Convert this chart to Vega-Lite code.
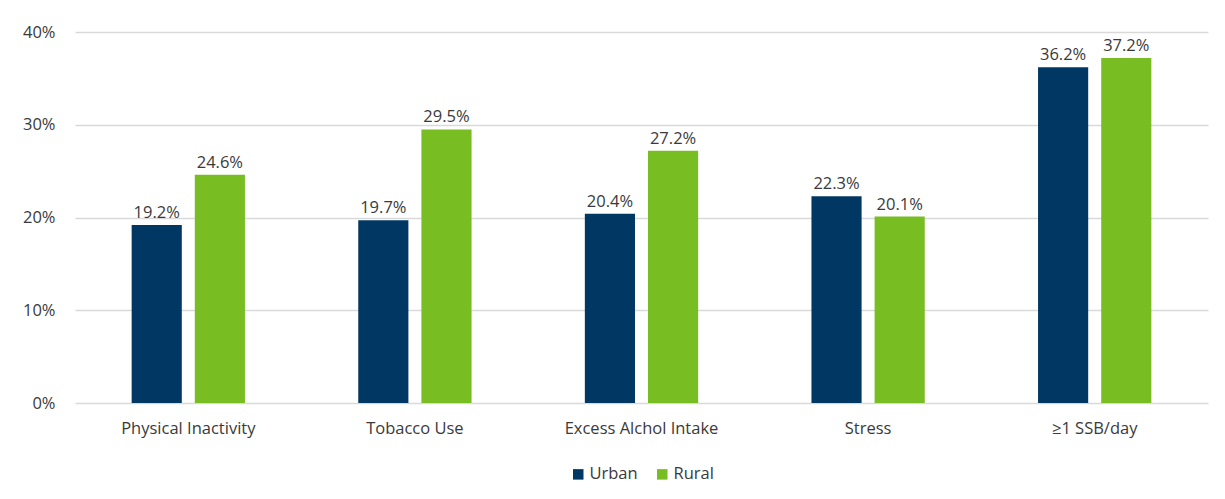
{
  "$schema": "https://vega.github.io/schema/vega-lite/v6.json",
  "autosize": {"type": "none"},
  "padding": {"left": 75, "top": 32, "right": 17, "bottom": 96},
  "width": 1133,
  "height": 371,
  "background": "white",
  "data": {
    "values": [
      {"category": "Physical Inactivity", "group": "Urban", "value": 0.192},
      {"category": "Physical Inactivity", "group": "Rural", "value": 0.246},
      {"category": "Tobacco Use", "group": "Urban", "value": 0.197},
      {"category": "Tobacco Use", "group": "Rural", "value": 0.295},
      {"category": "Excess Alchol Intake", "group": "Urban", "value": 0.204},
      {"category": "Excess Alchol Intake", "group": "Rural", "value": 0.272},
      {"category": "Stress", "group": "Urban", "value": 0.223},
      {"category": "Stress", "group": "Rural", "value": 0.201},
      {"category": "≥1 SSB/day", "group": "Urban", "value": 0.362},
      {"category": "≥1 SSB/day", "group": "Rural", "value": 0.372}
    ]
  },
  "encoding": {
    "x": {
      "field": "category", "type": "nominal", "sort": null, "title": null,
      "scale": {"paddingInner": 0.5, "paddingOuter": 0.25},
      "axis": {"labelAngle": 0, "ticks": false, "domain": false, "labelPadding": 17, "labelFontSize": 16.5, "labelColor": "#3A3A3A", "labelFont": "Open Sans"}
    },
    "xOffset": {"field": "group", "type": "nominal", "sort": ["Urban", "Rural"], "scale": {"paddingInner": 0.206, "paddingOuter": 0}},
    "y": {
      "field": "value", "type": "quantitative", "title": null,
      "scale": {"domain": [0, 0.4]},
      "axis": {"format": ".0%", "values": [0, 0.1, 0.2, 0.3, 0.4], "ticks": false, "domain": false, "labelPadding": 20, "labelFontSize": 16.5, "labelColor": "#3A3A3A", "labelFont": "Open Sans", "gridColor": "#D9D9D9", "gridWidth": 1.3, "labelOverlap": false}
    }
  },
  "layer": [
    {
      "mark": {"type": "bar"},
      "encoding": {
        "color": {
          "field": "group", "type": "nominal", "sort": ["Urban", "Rural"],
          "scale": {"domain": ["Urban", "Rural"], "range": ["#003763", "#78BD22"]},
          "legend": {"orient": "bottom", "direction": "horizontal", "title": null, "symbolType": "square", "symbolSize": 110, "symbolStrokeWidth": 0, "labelFontSize": 16.5, "labelColor": "#3A3A3A", "labelFont": "Open Sans", "offset": 29, "columnPadding": 16, "labelOffset": 3}
        }
      }
    },
    {
      "mark": {"type": "text", "baseline": "bottom", "dy": -4, "fontSize": 16.5, "color": "#3A3A3A", "font": "Open Sans"},
      "encoding": {
        "text": {"field": "value", "type": "quantitative", "format": ".1%"}
      }
    }
  ],
  "config": {"view": {"stroke": null}, "legend": {"layout": {"bottom": {"anchor": "middle"}}}}
}
